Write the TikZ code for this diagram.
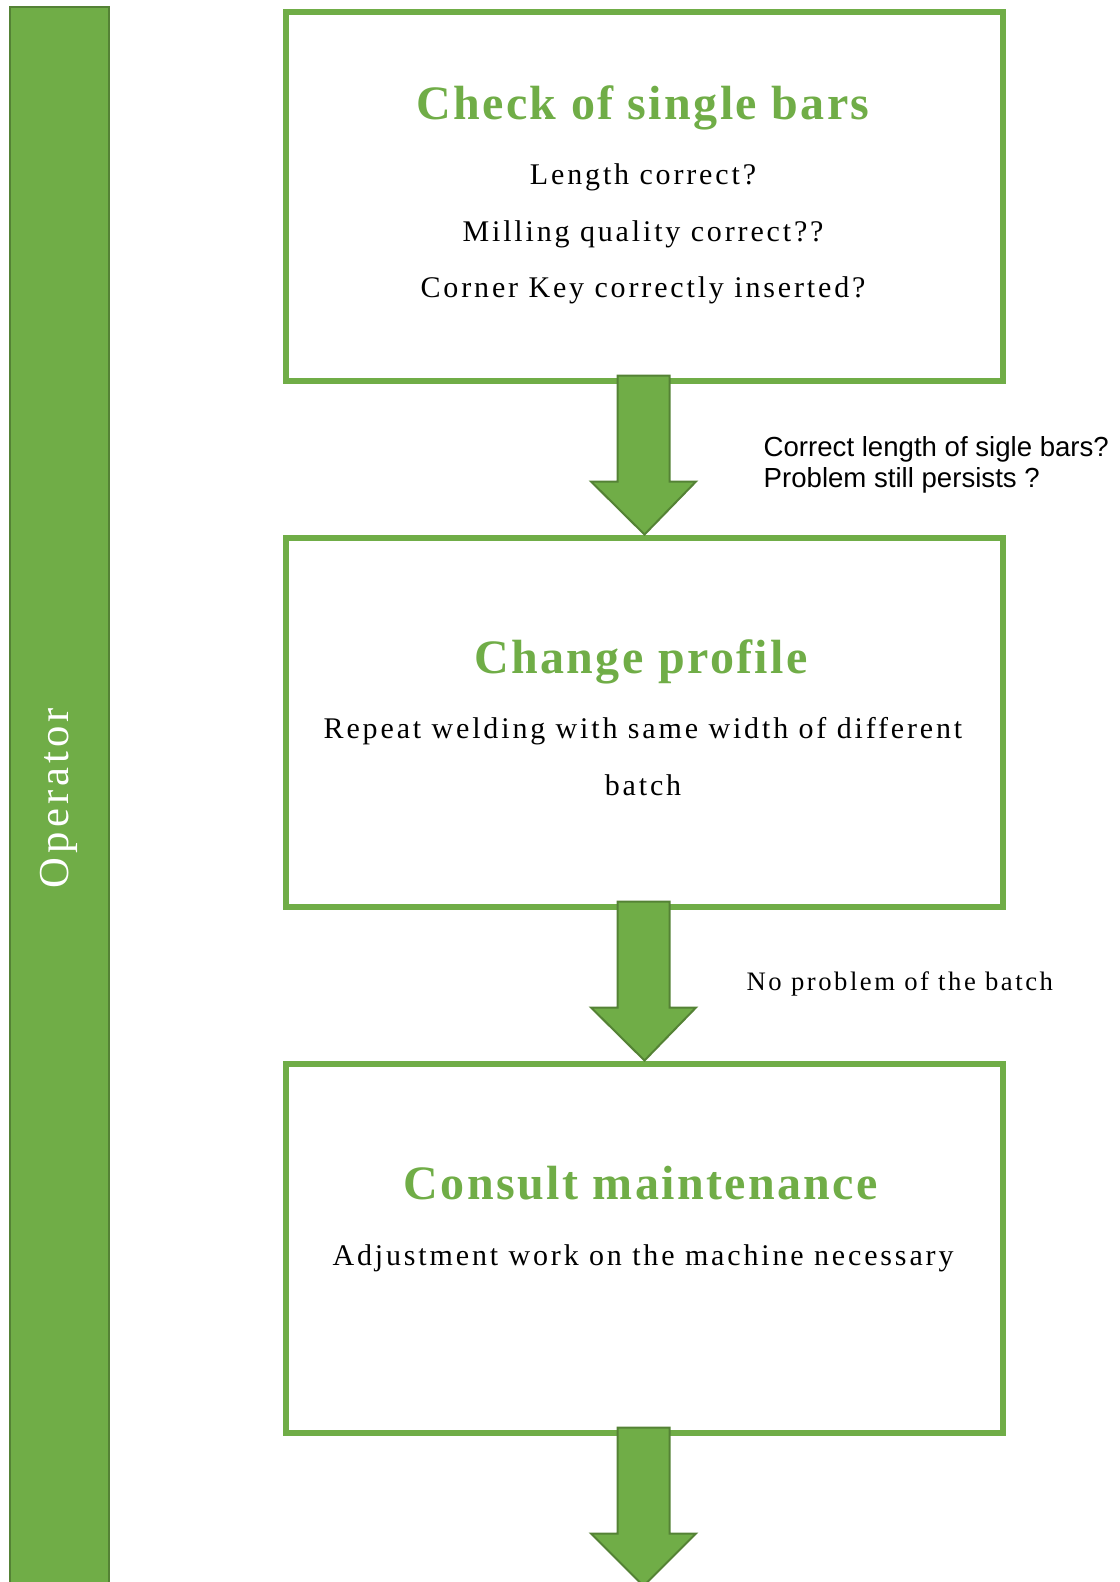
\documentclass[tikz,border=0pt]{standalone}
\usepackage{fontspec}
\setmainfont{Liberation Serif}
\newfontfamily\spacedserif[LetterSpace=9.5]{Liberation Serif}
\newfontfamily\titleserif[LetterSpace=5]{Liberation Serif}
\newfontfamily\notesans{Liberation Sans}
\usetikzlibrary{calc}
\definecolor{boxgreen}{RGB}{112,173,71}
\definecolor{edgegreen}{RGB}{84,130,53}
\tikzset{
  stepframe/.style={draw=boxgreen, line width=4.5pt, minimum width=537.75pt, minimum height=276.75pt, inner sep=0pt},
  steptitle/.style={text=boxgreen, font=\fontsize{36}{40}\selectfont\titleserif\bfseries},
  stepline/.style={font=\fontsize{22.5}{27}\selectfont\spacedserif},
  blockarrow/.style={fill=boxgreen, draw=edgegreen, line width=1.5pt, line join=miter}
}
\newcommand{\flowarrow}[2]{%
  \draw[blockarrow] ($(#1.south)+(-27,-8)$) -- ($(#1.south)+(-27,98)$) -- ($(#1.south)+(-53.5,98)$) -- (#2) -- ($(#1.south)+(51.5,98)$) -- ($(#1.south)+(25,98)$) -- ($(#1.south)+(25,-8)$) -- cycle ;}
\begin{document}
\begin{tikzpicture}[x=0.75pt,y=0.75pt,yscale=-1,xscale=1]
\useasboundingbox (0,0) rectangle (1120,1582);

%Shape: Sidebar
\draw [fill=boxgreen, draw=edgegreen, line width=1.5pt] (10,7) rectangle (109,1600) ;
\node [rotate=90, text=white, font=\fontsize{32}{36}\selectfont\spacedserif] (oplabel) at (59,798) {Operator};

%Shape: Rectangles
\node [stepframe] (box1) at (644.5,196) {};
\node [stepframe] (box2) at (644.5,722) {};
\node [stepframe] (box3) at (644.5,1248) {};

%Text: first step
\node [steptitle] (title1) at (643,108) {Check of single bars};
\node [stepline] (line1a) at (643,177) {Length correct?};
\node [stepline] (line1b) at (643,234) {Milling quality correct??};
\node [stepline] (line1c) at (643,290) {Corner Key correctly inserted?};

%Text: second step
\node [steptitle] (title2) at (641,662) {Change profile};
\node [stepline] (line2a) at (643,731) {Repeat welding with same width of different};
\node [stepline] (line2b) at (643,785) {batch};

%Text: third step
\node [steptitle] (title3) at (641,1183) {Consult maintenance};
\node [stepline] (line3a) at (643,1258) {Adjustment work on the machine necessary};

%Text: side notes
\node [anchor=west, align=left, font=\fontsize{20.7}{23.5}\selectfont\notesans] (note1) at (759,465) {Correct length of sigle bars?\\Problem still persists ?};
\node [anchor=west, font=\fontsize{20}{24}\selectfont\spacedserif] (note2) at (742,984) {No problem of the batch};

%Block arrows
\flowarrow{box1}{box2.north}
\flowarrow{box2}{box3.north}
\coordinate (end3) at (643.5,1586);
\flowarrow{box3}{end3}

\end{tikzpicture}
\end{document}
